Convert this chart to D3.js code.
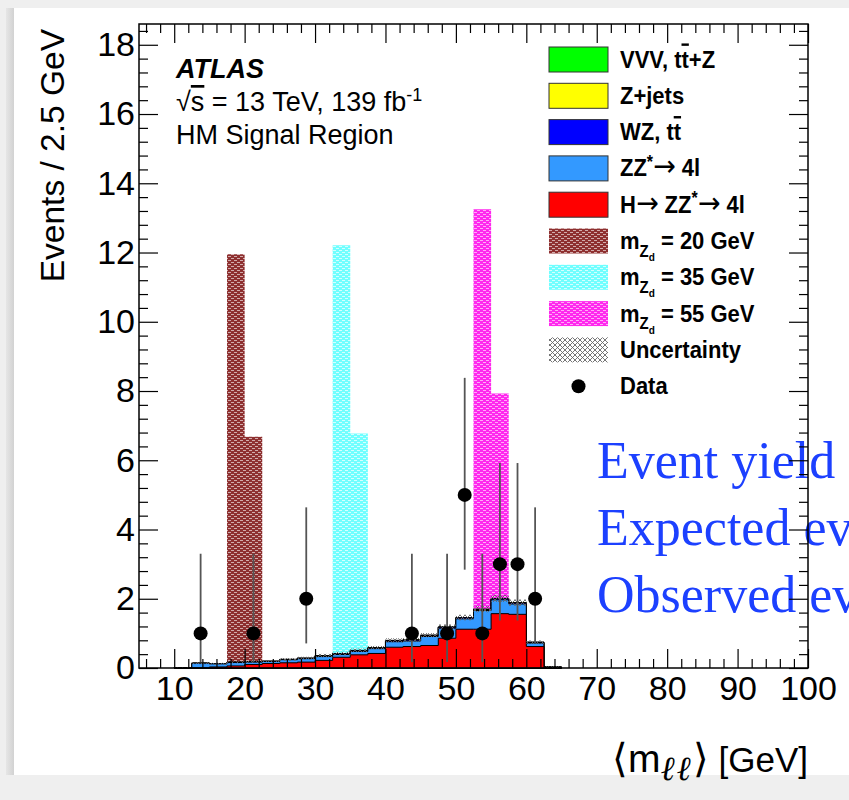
<!DOCTYPE html>
<html><head><meta charset="utf-8">
<script src="https://cdn.jsdelivr.net/npm/d3@7"></script>
<style>
html,body{margin:0;padding:0;background:#efefef;}
svg{display:block;}
text{font-family:"Liberation Sans",Arial,Helvetica,sans-serif;}
</style></head>
<body>
<svg id="c" width="849" height="800"></svg>
<script>
// ---------------- data ----------------
const binEdges = [10,12.5,15,17.5,20,22.5,25,27.5,30,32.5,35,37.5,40,42.5,45,47.5,50,52.5,55,57.5,60,62.5,65];
const higgs = [0.00,0.00,0.03,0.06,0.10,0.13,0.15,0.17,0.22,0.31,0.38,0.42,0.60,0.62,0.65,0.86,1.12,1.12,1.57,1.55,0.62,0.00];
const zzBkg = [0.01,0.14,0.09,0.10,0.07,0.06,0.09,0.10,0.11,0.08,0.10,0.14,0.16,0.16,0.26,0.29,0.30,0.54,0.40,0.30,0.10,0.02];
const wzTt  = [0.00,0.00,0.00,0.005,0.005,0.005,0.005,0.01,0.02,0.02,0.02,0.02,0.03,0.03,0.03,0.03,0.03,0.03,0.03,0.03,0.02,0.01];
const zJets = [0,0,0,0,0,0,0.003,0.003,0.005,0.005,0.005,0.005,0.005,0.005,0.005,0.005,0.005,0.005,0.005,0.005,0.003,0];
const vvvTtz= [0,0,0,0,0,0,0.002,0.002,0.003,0.003,0.003,0.003,0.003,0.003,0.003,0.003,0.003,0.003,0.003,0.003,0.002,0];
const bkgUnc= [0.01,0.03,0.03,0.03,0.03,0.03,0.04,0.04,0.05,0.05,0.05,0.05,0.06,0.06,0.06,0.07,0.08,0.09,0.10,0.09,0.05,0.02];

const sig20Edges = [17.5,20,22.5]; const sig20Vals = [11.95,6.68];
const sig35Edges = [32.5,35,37.5]; const sig35Vals = [12.21,6.77];
const sig55Edges = [52.5,55,57.5]; const sig55Vals = [13.25,7.93];

const dataX   = [13.75,21.25,28.75,43.75,48.75,51.25,53.75,56.25,58.75,61.25];
const dataN   = [1,1,2,1,1,5,1,3,3,2];
const dataErrLo = [0.83,0.83,1.29,0.83,0.83,2.16,0.83,1.63,1.63,1.29];
const dataErrHi = [2.30,2.30,2.64,2.30,2.30,3.38,2.30,2.92,2.92,2.64];

const xTickVals = [10,20,30,40,50,60,70,80,90,100];
const xMinorVals = [6,8,12,14,16,18,22,24,26,28,32,34,36,38,42,44,46,48,52,54,56,58,62,64,66,68,72,74,76,78,82,84,86,88,92,94,96,98];
const yTickVals = [0,2,4,6,8,10,12,14,16,18];
const yMinorVals = [0.4,0.8,1.2,1.6,2.4,2.8,3.2,3.6,4.4,4.8,5.2,5.6,6.4,6.8,7.2,7.6,8.4,8.8,9.2,9.6,10.4,10.8,11.2,11.6,12.4,12.8,13.2,13.6,14.4,14.8,15.2,15.6,16.4,16.8,17.2,17.6,18.4];

const legendLabels = ["VVV, tt+Z","Z+jets","WZ, tt","ZZ*→ 4l","H→ ZZ*→ 4l","m = 20 GeV","m = 35 GeV","m = 55 GeV","Uncertainty","Data"];
const sideNotes = ["Event yield in signal region","Expected events","Observed events"];

// ---------------- drawing ----------------
const W = 849, H = 800;
const svg = d3.select('#c');
const defs = svg.append('defs');

const x = d3.scaleLinear().domain([5,100]).range([139,808]);
const y = d3.scaleLinear().domain([0,18.6]).range([668,24]);

// page background
svg.append('rect').attr('width',W).attr('height',H).attr('fill','#efefef');
const grad = defs.append('linearGradient').attr('id','shadow').attr('x1',0).attr('x2',1);
grad.append('stop').attr('offset',0).attr('stop-color','#e6e6e6');
grad.append('stop').attr('offset',1).attr('stop-color','#d2d2d2');
svg.append('rect').attr('x',6).attr('y',8).attr('width',8).attr('height',767).attr('fill','url(#shadow)');
svg.append('rect').attr('x',14).attr('y',8).attr('width',W-14).attr('height',767).attr('fill','#fff');

// patterns
function dotPattern(id,color,op){
  const p = defs.append('pattern').attr('id',id).attr('patternUnits','userSpaceOnUse').attr('width',6).attr('height',4);
  p.append('rect').attr('width',6).attr('height',4).attr('fill',color);
  p.append('rect').attr('x',0).attr('y',0).attr('width',3).attr('height',1).attr('fill','#fff').attr('opacity',op);
  p.append('rect').attr('x',3).attr('y',2).attr('width',3).attr('height',1).attr('fill','#fff').attr('opacity',op);
}
dotPattern('p20','#8e3030',0.6);
dotPattern('p35','#70ffff',0.7);
dotPattern('p55','#ff28ee',0.6);
const up = defs.append('pattern').attr('id','punc').attr('patternUnits','userSpaceOnUse').attr('width',5).attr('height',5);
up.append('path').attr('d','M0,0L5,5M5,0L0,5').attr('stroke','#666').attr('stroke-width',0.9);

// side notes (under the plot, plot has transparent background)
const notes = svg.append('g').attr('fill','#1c40ff');
sideNotes.forEach((t,i)=>{
  notes.append('text').attr('x',597).attr('y',478+i*67).attr('font-size',52)
    .style('font-family','"Liberation Serif","Times New Roman",serif').text(t);
});

function histPath(edges, vals){
  let d = `M${x(edges[0])},${y(0)}`;
  vals.forEach((v,i)=>{ d += `L${x(edges[i])},${y(v)}L${x(edges[i+1])},${y(v)}`; });
  d += `L${x(edges[edges.length-1])},${y(0)}Z`;
  return d;
}

// signals
[[sig20Edges,sig20Vals,'p20'],[sig35Edges,sig35Vals,'p35'],[sig55Edges,sig55Vals,'p55']].forEach(([e,v,p])=>{
  svg.append('path').attr('d',histPath(e,v)).attr('fill',`url(#${p})`).attr('stroke','none');
});

// stacked backgrounds
const rows = binEdges.slice(0,-1).map((e,i)=>({i, h:higgs[i], zz:zzBkg[i], wz:wzTt[i], zj:zJets[i], vvv:vvvTtz[i]}));
const keys = ['h','zz','wz','zj','vvv'];
const colors = {h:'#ff0000', zz:'#3399ff', wz:'#0000ff', zj:'#ffff00', vvv:'#00ff00'};
const stacked = d3.stack().keys(keys)(rows);
for(let k = stacked.length-1; k>=0; k--){
  const layer = stacked[k];
  svg.append('path').attr('d',histPath(binEdges, layer.map(d=>d[1])))
    .attr('fill',colors[keys[k]]).attr('stroke','#000').attr('stroke-width',1);
}
const totals = stacked[stacked.length-1].map(d=>d[1]);
// uncertainty
svg.append('g').selectAll('rect').data(totals).join('rect')
  .attr('x',(d,i)=>x(binEdges[i])).attr('width',(d,i)=>x(binEdges[i+1])-x(binEdges[i]))
  .attr('y',(d,i)=>y(d+bkgUnc[i])).attr('height',(d,i)=>y(d-bkgUnc[i])-y(d+bkgUnc[i]))
  .attr('fill','url(#punc)');

// data
const dg = svg.append('g');
dg.selectAll('line').data(dataX).join('line')
  .attr('x1',d=>x(d)).attr('x2',d=>x(d))
  .attr('y1',(d,i)=>y(dataN[i]-dataErrLo[i])).attr('y2',(d,i)=>y(dataN[i]+dataErrHi[i]))
  .attr('stroke','#555').attr('stroke-width',1.8);
dg.selectAll('circle').data(dataX).join('circle')
  .attr('cx',d=>x(d)).attr('cy',(d,i)=>y(dataN[i])).attr('r',7).attr('fill','#000');

// axes
const fs = 34;
const ax = svg.append('g');
const axB = ax.append('g').attr('transform',`translate(0,${y(0)})`)
  .call(d3.axisBottom(x).tickValues(xTickVals).tickSizeInner(-19).tickSizeOuter(0).tickPadding(8));
axB.append('g').call(d3.axisBottom(x).tickValues(xMinorVals).tickSizeInner(-9).tickSizeOuter(0).tickFormat(''));
const axT = ax.append('g').attr('transform',`translate(0,${y.range()[1]})`)
  .call(d3.axisTop(x).tickValues(xTickVals).tickSizeInner(-19).tickSizeOuter(0).tickFormat(''));
axT.append('g').call(d3.axisTop(x).tickValues(xMinorVals).tickSizeInner(-9).tickSizeOuter(0).tickFormat(''));
const axL = ax.append('g').attr('transform',`translate(${x(5)},0)`)
  .call(d3.axisLeft(y).tickValues(yTickVals).tickSizeInner(-19).tickSizeOuter(0).tickPadding(4));
axL.append('g').call(d3.axisLeft(y).tickValues(yMinorVals).tickSizeInner(-9).tickSizeOuter(0).tickFormat(''));
const axR = ax.append('g').attr('transform',`translate(${x(100)},0)`)
  .call(d3.axisRight(y).tickValues(yTickVals).tickSizeInner(-19).tickSizeOuter(0).tickFormat(''));
axR.append('g').call(d3.axisRight(y).tickValues(yMinorVals).tickSizeInner(-9).tickSizeOuter(0).tickFormat(''));
ax.selectAll('.domain').remove();
ax.selectAll('.tick line').attr('stroke','#000').attr('stroke-width',1.2);
ax.selectAll('.tick text').attr('font-size',fs).attr('font-family','"Liberation Sans",Arial,sans-serif').attr('fill','#000');
svg.append('rect').attr('x',x(5)).attr('y',y.range()[1]).attr('width',x(100)-x(5)).attr('height',y(0)-y.range()[1])
  .attr('fill','none').attr('stroke','#000').attr('stroke-width',1.5);

// axis titles
svg.append('text').attr('transform','translate(64,29) rotate(-90)').attr('text-anchor','end').attr('font-size',33.5).text('Events / 2.5 GeV');
const xt = svg.append('text').attr('x',808).attr('y',772).attr('text-anchor','end').attr('font-size',35);
xt.append('tspan').attr('font-size',40).text('⟨');
xt.append('tspan').attr('font-size',39).text('m');
xt.append('tspan').attr('dy',8).attr('font-size',34).attr('letter-spacing',2).attr('font-style','italic').attr('font-family','"DejaVu Serif",serif').text('ℓℓ');
xt.append('tspan').attr('dy',-8).attr('font-size',40).text('⟩');
xt.append('tspan').text(' [GeV]');

// ATLAS label
svg.append('text').attr('x',176).attr('y',78).attr('font-size',27).attr('font-weight','bold').attr('font-style','italic').text('ATLAS');
const t2 = svg.append('text').attr('x',176).attr('y',111).attr('font-size',27);
t2.append('tspan').text('√');
t2.append('tspan').style('text-decoration','overline').text('s');
t2.append('tspan').text(' = 13 TeV, 139 fb');
t2.append('tspan').attr('dy',-10).attr('font-size',18).text('-1');
svg.append('text').attr('x',176).attr('y',144).attr('font-size',27).text('HM Signal Region');

// legend
const lg = svg.append('g');
const ly0 = 59.5, ldy = 36.3, bx = 549, bw = 59, bh = 25, tx = 620;
const boxFill = ['#00ff00','#ffff00','#0000ff','#3399ff','#ff0000','url(#p20)','url(#p35)','url(#p55)','url(#punc)',null];
const arrowFont = '"DejaVu Sans",sans-serif';
legendLabels.forEach((lab,i)=>{
  const cy = ly0 + i*ldy;
  if(i<5){
    lg.append('rect').attr('x',bx).attr('y',cy-bh/2).attr('width',bw).attr('height',bh).attr('fill',boxFill[i]).attr('stroke','#333').attr('stroke-width',1);
  } else if(i<9){
    lg.append('rect').attr('x',bx).attr('y',cy-bh/2).attr('width',bw).attr('height',bh).attr('fill',boxFill[i]);
  } else {
    lg.append('circle').attr('cx',bx+bw/2).attr('cy',cy).attr('r',7).attr('fill','#000');
  }
  const t = lg.append('text').attr('transform',`translate(${tx},${cy+8}) scale(1,1.1)`).attr('font-size',22).attr('font-weight','bold');
  if(i===0){
    t.append('tspan').text('VVV, t');
    t.append('tspan').style('text-decoration','overline').text('t');
    t.append('tspan').text('+Z');
  } else if(i===2){
    t.append('tspan').text('WZ, t');
    t.append('tspan').style('text-decoration','overline').text('t');
  } else if(i===3){
    t.append('tspan').text('ZZ');
    t.append('tspan').attr('dy',-8).attr('font-size',16).text('*');
    t.append('tspan').attr('dy',8).attr('font-family',arrowFont).attr('font-weight','normal').attr('font-size',27).text('→');
    t.append('tspan').text(' 4l');
  } else if(i===4){
    t.append('tspan').text('H');
    t.append('tspan').attr('font-family',arrowFont).attr('font-weight','normal').attr('font-size',27).text('→');
    t.append('tspan').text(' ZZ');
    t.append('tspan').attr('dy',-8).attr('font-size',16).text('*');
    t.append('tspan').attr('dy',8).attr('font-family',arrowFont).attr('font-weight','normal').attr('font-size',27).text('→');
    t.append('tspan').text(' 4l');
  } else if(i>=5 && i<=7){
    t.append('tspan').text('m');
    t.append('tspan').attr('dy',7).attr('font-size',15).text('Z');
    t.append('tspan').attr('dy',4).attr('font-size',10).text('d');
    t.append('tspan').attr('dy',-11).text(lab.slice(1));
  } else {
    t.text(lab);
  }
});
</script>
</body></html>
